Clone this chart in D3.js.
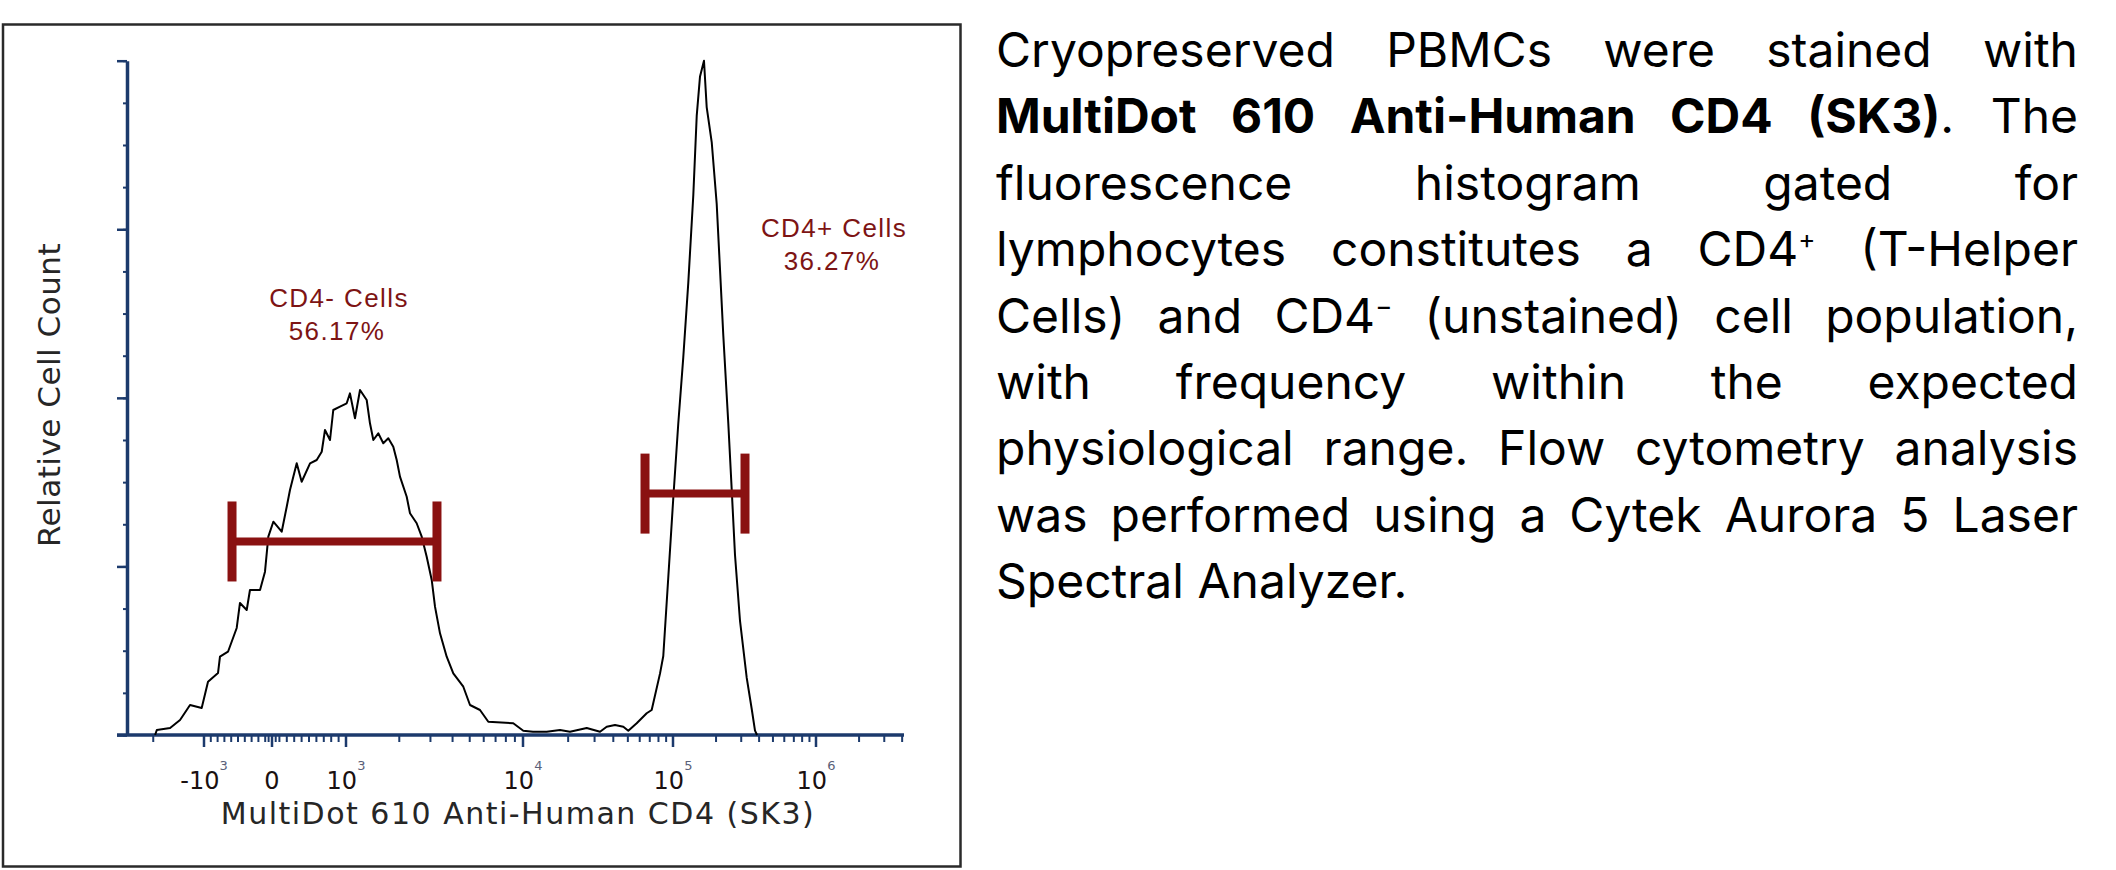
<html>
<head>
<meta charset="utf-8">
<title>CD4 histogram</title>
<style>
  body { margin: 0; background: #fff; }
  #chart { position: absolute; left: 0; top: 0; }
  #desc {
    position: absolute; left: 996px; top: 17px; width: 1082px;
    font-family: Inter, "Open Sans", sans-serif; font-size: 48px; line-height: 66.4px; color: #000;
  }
  #desc div { white-space: nowrap; text-align: justify; text-align-last: justify; }
  #desc div.last { text-align-last: left; }
  #desc sup { font-size: 26px; line-height: 0; vertical-align: 18px; }
</style>
</head>
<body>
<div id="chart"></div>
<div id="desc">
  <div>Cryopreserved PBMCs were stained with</div>
  <div><b>MultiDot 610 Anti-Human CD4 (SK3)</b>. The</div>
  <div>fluorescence histogram gated for</div>
  <div>lymphocytes constitutes a CD4<sup>+</sup> (T-Helper</div>
  <div>Cells) and CD4<sup>−</sup> (unstained) cell population,</div>
  <div>with frequency within the expected</div>
  <div>physiological range. Flow cytometry analysis</div>
  <div>was performed using a Cytek Aurora 5 Laser</div>
  <div class="last">Spectral Analyzer.</div>
</div>
<script src="https://d3js.org/d3.v7.min.js"></script>
<script>
// Histogram trace (fluorescence intensity, relative cell count in % of max)
const histFluor = [-1950, -1905, -1589, -1387, -1210, -1032, -941, -794, -765, -647,
  -519, -471, -372, -324, -176, -103, -54, 18, 131, 199,
  243, 288, 334, 401, 514, 604, 672, 716, 784, 828,
  919, 1009, 1053, 1124, 1200, 1309, 1366, 1427, 1522, 1624,
  1734, 1850, 1934, 2018, 2203, 2299, 2508, 2678, 2857, 3050,
  3183, 3397, 3706, 4038, 4600, 5019, 5715, 6368, 8810, 10046,
  11660, 14390, 17650, 20570, 26600, 32620, 36140, 41050, 46650, 50350,
  57280, 66770, 72100, 81900, 86150, 93050, 100480, 108900, 118000, 127900,
  138700, 146500, 154500, 164700, 172000, 186500, 202100, 213200, 224800, 243600,
  257300, 271400, 294200, 327800, 355000, 374500, 387000];
const histCount = [0, 0.74, 1.04, 2.22, 4.45, 4.0, 7.9, 9.19, 11.61, 12.35,
  15.87, 19.58, 18.54, 21.5, 21.5, 24.22, 29.41, 31.63, 30.15, 33.86,
  36.33, 38.31, 40.29, 37.56, 40.29, 40.78, 42.01, 45.23, 43.75, 48.2,
  48.69, 49.19, 50.67, 46.97, 51.16, 49.68, 46.23, 43.75, 44.74, 43.26,
  44.0, 42.76, 40.78, 38.31, 35.34, 32.88, 31.4, 29.41, 26.44, 22.99,
  19.03, 15.08, 11.61, 9.15, 7.16, 4.45, 3.71, 1.97, 1.74, 0.64,
  0.49, 0.49, 0.74, 0.49, 1.04, 0.49, 1.23, 1.48, 1.23, 0.64,
  1.74, 3.22, 3.71, 9.1, 11.72, 23.43, 35.15, 46.23, 56.0, 67.06,
  80.08, 91.81, 97.67, 100, 93.13, 87.94, 78.79, 69.02, 59.25, 46.23,
  36.45, 26.69, 16.91, 8.46, 3.89, 0.64, 0];

// Gates
const gateNames = ["CD4- Cells", "CD4+ Cells"];
const gatePct = ["56.17%", "36.27%"];
const gateFrom = [-588, 65080];
const gateTo = [3266, 318800];
const gateLevel = [28.7, 35.8];

// Axis ticks
const xMajor = [-1e3, 0, 1e3, 1e4, 1e5, 1e6];
const xMajorBase = ["-10", "0", "10", "10", "10", "10"];
const xMajorExp = ["3", "", "3", "4", "5", "6"];
const xMinor = [-2000, -900, -800, -700, -600, -500, -400, -300, -200, -100, -50, 50,
  100, 200, 300, 400, 500, 600, 700, 800, 900,
  2e3, 3e3, 4e3, 5e3, 6e3, 7e3, 8e3, 9e3,
  2e4, 3e4, 4e4, 5e4, 6e4, 7e4, 8e4, 9e4,
  2e5, 3e5, 4e5, 5e5, 6e5, 7e5, 8e5, 9e5,
  2e6, 3e6, 4e6];
const yMajor = [0, 25, 50, 75, 100];
const yMinor = d3.range(0, 100.01, 6.25);

const axisColor = "#1c3a6c";
const gateColor = "#8a1111";

const svg = d3.select("#chart").append("svg")
    .attr("width", 2116)
    .attr("height", 870);

// cadre
svg.append("rect")
    .attr("x", 3).attr("y", 24.5)
    .attr("width", 957.5).attr("height", 842)
    .attr("fill", "none")
    .attr("stroke", "#2a2a2a")
    .attr("stroke-width", 2.5);

// biexponential display: linear around zero, log per decade above 10^3
const biex = v => {
    const a = Math.abs(v);
    return a <= 1000 ? v / 1000 : Math.sign(v) * (1 + Math.log10(a / 1000));
};
const xs = d3.scaleLinear()
    .domain([-1.516, -1, 0, 1, 2, 3, 4, 4.615])
    .range([117, 204, 272, 346, 523, 673, 816, 904]);
const x = v => xs(biex(v));

const y = d3.scaleLinear().domain([0, 100]).range([735, 60.7]);

// Eixo Y
const yAxisG = svg.append("g").attr("transform", "translate(127,0)");
yAxisG.append("g")
    .call(d3.axisLeft(y).tickValues(yMinor).tickSize(4).tickSizeOuter(0).tickFormat(""))
    .call(g => g.select(".domain").remove())
    .selectAll("line").attr("stroke", axisColor).attr("stroke-width", 2);
yAxisG.append("g")
    .call(d3.axisLeft(y).tickValues(yMajor).tickSize(10).tickSizeOuter(0).tickFormat(""))
    .call(g => g.select(".domain").attr("stroke", axisColor).attr("stroke-width", 3.5))
    .selectAll("line").attr("stroke", axisColor).attr("stroke-width", 2.5);

// Eixo X
const xAxisG = svg.append("g");
xAxisG.append("line")
    .attr("x1", xs.range()[0]).attr("x2", xs.range()[xs.range().length - 1])
    .attr("y1", y(0)).attr("y2", y(0))
    .attr("stroke", axisColor).attr("stroke-width", 3.5);
xAxisG.selectAll("line.minor")
    .data(xMinor)
    .join("line")
    .attr("class", "minor")
    .attr("x1", d => x(d)).attr("x2", d => x(d))
    .attr("y1", y(0)).attr("y2", y(0) + 7)
    .attr("stroke", axisColor).attr("stroke-width", 2);
xAxisG.selectAll("line.major")
    .data(xMajor)
    .join("line")
    .attr("class", "major")
    .attr("x1", d => x(d)).attr("x2", d => x(d))
    .attr("y1", y(0)).attr("y2", y(0) + 12)
    .attr("stroke", axisColor).attr("stroke-width", 2.5);

const tickLab = xAxisG.selectAll("text.tick")
    .data(xMajor)
    .join("text")
    .attr("class", "tick")
    .attr("x", d => x(d))
    .attr("y", 789)
    .attr("text-anchor", "middle")
    .style("font-family", "'DejaVu Sans', Verdana, sans-serif")
    .style("font-size", "24px")
    .attr("fill", "#1a1010");
tickLab.append("tspan").text((d, i) => xMajorBase[i]);
tickLab.append("tspan")
    .attr("dy", -19)
    .style("font-size", "13px")
    .attr("fill", "#5a6078")
    .text((d, i) => xMajorExp[i]);

// Legendas dos eixos
svg.append("text")
    .attr("x", 518).attr("y", 824)
    .attr("text-anchor", "middle")
    .style("font-family", "'DejaVu Sans', Verdana, sans-serif")
    .style("font-size", "30px")
    .style("letter-spacing", "1.5px")
    .attr("fill", "#262626")
    .text("MultiDot 610 Anti-Human CD4 (SK3)");

svg.append("text")
    .attr("transform", "translate(60,395) rotate(-90)")
    .attr("text-anchor", "middle")
    .style("font-family", "'DejaVu Sans', Verdana, sans-serif")
    .style("font-size", "31px")
    .style("letter-spacing", "0.5px")
    .attr("fill", "#262626")
    .text("Relative Cell Count");

// Histograma
const line = d3.line()
    .x(d => x(d[0]))
    .y(d => y(d[1]));
svg.append("path")
    .datum(d3.zip(histFluor, histCount))
    .attr("d", line)
    .attr("fill", "none")
    .attr("stroke", "#000")
    .attr("stroke-width", 2)
    .attr("stroke-linejoin", "round");

// Gates
const gates = svg.selectAll("g.gate")
    .data(gateNames.map((n, i) => ({ name: n, pct: gatePct[i], from: gateFrom[i], to: gateTo[i], level: gateLevel[i] })))
    .join("g")
    .attr("class", "gate");
gates.append("line")
    .attr("x1", d => x(d.from)).attr("x2", d => x(d.to))
    .attr("y1", d => y(d.level)).attr("y2", d => y(d.level))
    .attr("stroke", gateColor).attr("stroke-width", 8);
gates.selectAll("line.end")
    .data(d => [d.from, d.to].map(v => ({ v, level: d.level })))
    .join("line")
    .attr("class", "end")
    .attr("x1", d => x(d.v)).attr("x2", d => x(d.v))
    .attr("y1", d => y(d.level) - 40).attr("y2", d => y(d.level) + 40)
    .attr("stroke", gateColor).attr("stroke-width", 9);

// Rótulos das gates
const labelPos = [[339, 307], [834, 237]];
gates.each(function (d, i) {
    const t = d3.select(this).append("text")
        .attr("text-anchor", "middle")
        .style("font-family", "'Liberation Sans', Arial, sans-serif")
        .style("font-size", "26px")
        .style("letter-spacing", "1.4px")
        .attr("fill", "#7d1414");
    t.append("tspan").attr("x", labelPos[i][0]).attr("y", labelPos[i][1]).text(d.name);
    t.append("tspan").attr("x", labelPos[i][0] - 2).attr("dy", 33).text(d.pct);
});
</script>
</body>
</html>
